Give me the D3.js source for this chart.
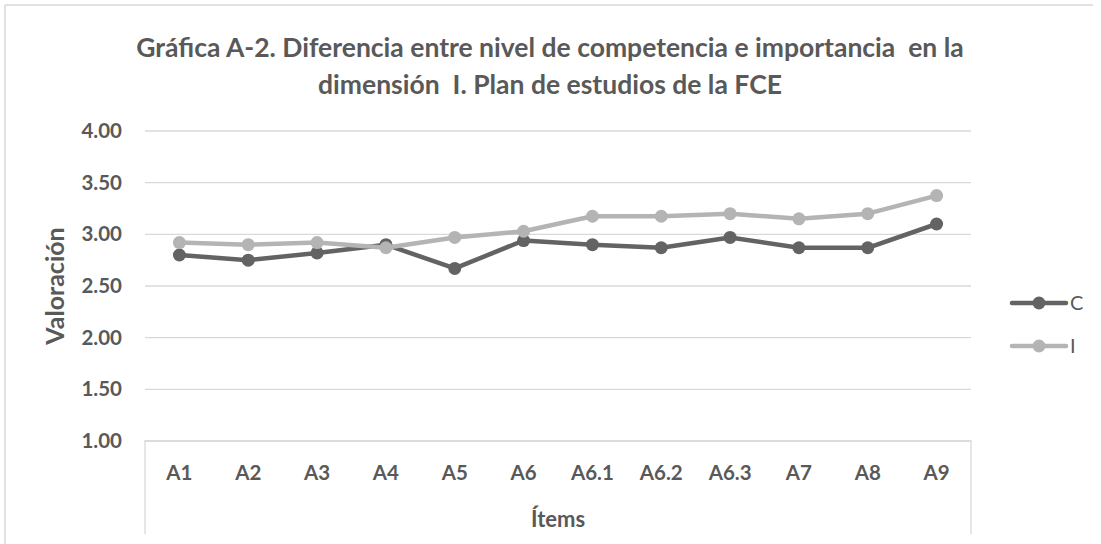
<!DOCTYPE html>
<html><head><meta charset="utf-8">
<script src="https://cdn.jsdelivr.net/npm/d3@7"></script>
<style>body{margin:0;background:#fff}svg{display:block}text{white-space:pre}</style>
</head><body>
<svg id="c" width="1101" height="544"></svg>
<script>
const categories = ["A1","A2","A3","A4","A5","A6","A6.1","A6.2","A6.3","A7","A8","A9"];
const seriesC = [2.80,2.75,2.82,2.90,2.67,2.94,2.90,2.87,2.97,2.87,2.87,3.10];
const seriesI = [2.92,2.90,2.92,2.87,2.97,3.03,3.175,3.175,3.20,3.15,3.20,3.375];
const yTicks = [1.00,1.50,2.00,2.50,3.00,3.50,4.00];
const seriesNames = ["C","I"];
const titleLines = ["Gráfica A-2. Diferencia entre nivel de competencia e importancia  en la","dimensión  I. Plan de estudios de la FCE"];

const svg = d3.select("#c");
const F = "Lato, 'Open Sans', sans-serif";
const txt = "#595959";
const colors = {C:"#636363", I:"#b4b4b4"};

// chart frame
svg.append("line").attr("x1",5).attr("x2",1093).attr("y1",5).attr("y2",5).attr("stroke","#d9d9d9").attr("stroke-width",1.5);
svg.append("line").attr("x1",5).attr("x2",5).attr("y1",5).attr("y2",544).attr("stroke","#d9d9d9").attr("stroke-width",1.5);

const x = d3.scaleBand().domain(categories).range([145,971]);
const y = d3.scaleLinear().domain([1,4]).range([441,131]);

// gridlines
svg.append("g").selectAll("line").data(yTicks).join("line")
  .attr("x1",145).attr("x2",971).attr("y1",d=>y(d)).attr("y2",d=>y(d))
  .attr("stroke","#d9d9d9").attr("stroke-width",1.3);

// y axis labels
const yAxis = d3.axisLeft(y).tickValues(yTicks).tickFormat(d3.format(".2f")).tickSize(0).tickPadding(23);
const gy = svg.append("g").attr("transform","translate(145,0)").call(yAxis);
gy.select(".domain").remove();
gy.selectAll("text").attr("font-family",F).attr("font-size",20.5).attr("font-weight","bold").attr("fill",txt);

// x axis box
svg.append("path").attr("d",`M145,534V441H971V534`).attr("fill","none").attr("stroke","#d9d9d9").attr("stroke-width",1.3);
const xAxis = d3.axisBottom(x).tickSize(0).tickPadding(24);
const gx = svg.append("g").attr("transform","translate(0,441)").call(xAxis);
gx.select(".domain").remove();
gx.selectAll("text").attr("font-family",F).attr("font-size",20.5).attr("font-weight","bold").attr("fill",txt);

// axis titles
svg.append("text").attr("x",558).attr("y",527).attr("text-anchor","middle")
  .attr("font-family",F).attr("font-size",22).attr("font-weight","bold").attr("fill",txt).text("Ítems");
svg.append("text").attr("transform","translate(64,286) rotate(-90)").attr("text-anchor","middle")
  .attr("font-family",F).attr("font-size",25).attr("font-weight","bold").attr("fill",txt).text("Valoración");

// title
svg.append("g").selectAll("text").data(titleLines).join("text")
  .attr("x",550).attr("y",(d,i)=>57+i*37).attr("text-anchor","middle")
  .attr("font-family",F).attr("font-size",26.5).attr("font-weight","bold").attr("fill",txt).text(d=>d);

// series
const data = {C:seriesC, I:seriesI};
const line = d3.line().x((d,i)=>x(categories[i])+x.bandwidth()/2).y(d=>y(d));
["C","I"].forEach(k=>{
  const g = svg.append("g");
  g.append("path").datum(data[k]).attr("d",line).attr("fill","none").attr("stroke",colors[k]).attr("stroke-width",4.5).attr("stroke-linejoin","round");
  g.selectAll("circle").data(data[k]).join("circle")
    .attr("cx",(d,i)=>x(categories[i])+x.bandwidth()/2).attr("cy",d=>y(d)).attr("r",6.5).attr("fill",colors[k]);
});

// legend
const leg = svg.append("g").selectAll("g").data(seriesNames).join("g")
  .attr("transform",(d,i)=>`translate(1012,${303+i*43})`);
leg.append("line").attr("x1",0).attr("x2",54).attr("stroke",d=>colors[d]).attr("stroke-width",4.5).attr("stroke-linecap","round");
leg.append("circle").attr("cx",27).attr("r",6.5).attr("fill",d=>colors[d]);
leg.append("text").attr("x",58).attr("y",7).attr("font-family",F).attr("font-size",20).attr("fill",txt).text(d=>d);
</script>
</body></html>
